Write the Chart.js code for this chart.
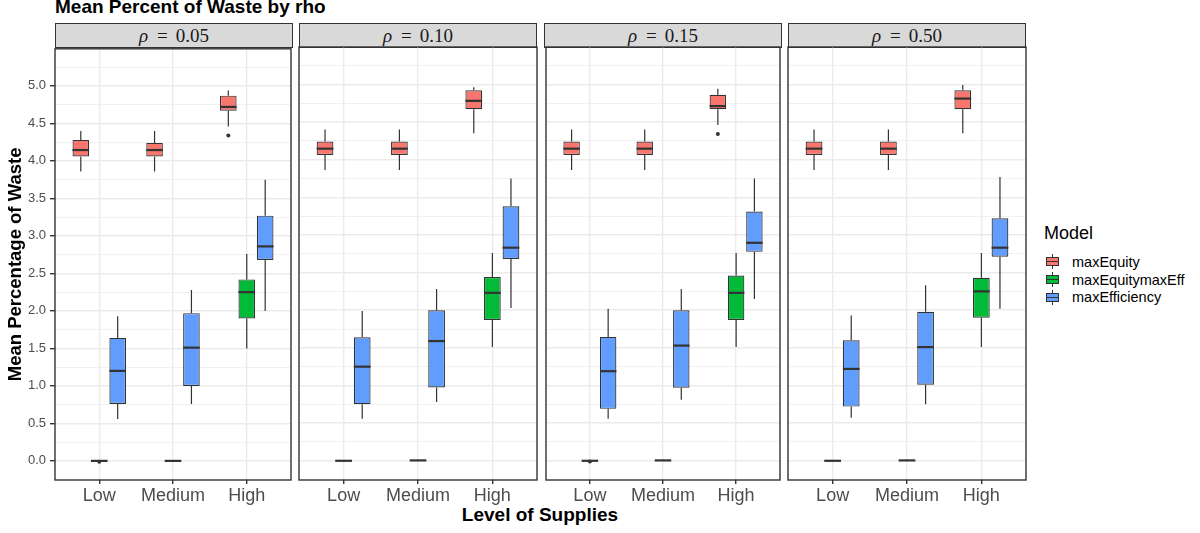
<!DOCTYPE html>
<html>
<head>
<meta charset="utf-8">
<script src="https://cdn.jsdelivr.net/npm/chart.js@4.4.0/dist/chart.umd.min.js"></script>
<style>
  body { margin: 0; width: 1200px; height: 533px; background: #fff; position: relative; overflow: hidden; font-family: "Liberation Sans", Arial, sans-serif; }
  canvas { position: absolute; }
  #titulo { position: absolute; left: 55px; top: -3px; font-size: 19px; line-height: 19px; font-weight: bold; color: #000; }
  #xtitulo { position: absolute; left: 340px; width: 400px; top: 505px; text-align: center; font-size: 19px; line-height: 19px; font-weight: bold; color: #000; }
  .tira { position: absolute; top: 23px; height: 25px; background: #d9d9d9; border: 1px solid #333; box-sizing: border-box; display: flex; align-items: center; justify-content: center; font-family: "Liberation Serif", serif; font-size: 19px; color: #1a1a1a; }
  .tira .igual { margin: 0 8px 0 9px; }
  #leyenda-titulo { position: absolute; left: 1044px; top: 224px; font-size: 18px; line-height: 18px; color: #000; }
  .fila { position: absolute; left: 1044px; height: 18px; display: flex; align-items: center; font-size: 14.5px; color: #000; }
  .llave { position: relative; width: 17px; height: 17px; margin-right: 11px; }
  .llave .bigote { position: absolute; left: 8px; top: 1px; width: 1.2px; height: 15px; background: #333; }
  .llave .caja { position: absolute; left: 2px; top: 4px; width: 13px; height: 9px; border: 1px solid #333; box-sizing: border-box; }
  .llave .mediana { position: absolute; left: 2px; top: 7.8px; width: 13px; height: 1.5px; background: #333; }
</style>
</head>
<body>
<div id="titulo">Mean Percent of Waste by rho</div>
<div id="xtitulo">Level of Supplies</div>
<div id="leyenda-titulo">Model</div>
<script>
const valoresRho = ['0.05', '0.10', '0.15', '0.50'];
const niveles = ['Low', 'Medium', 'High'];
const modelos = ['maxEquity', 'maxEquitymaxEff', 'maxEfficiency'];
const marcasY = [0, 0.5, 1, 1.5, 2, 2.5, 3, 3.5, 4, 4.5, 5];

// resumen de cada caja: [rho][nivel]
const equityBajo  = [[3.86, 3.86, 4.46], [3.86, 3.86, 4.35], [3.86, 3.86, 4.46], [3.86, 3.86, 4.35]];
const equityQ1    = [[4.06, 4.06, 4.67], [4.06, 4.06, 4.67], [4.06, 4.06, 4.67], [4.06, 4.06, 4.67]];
const equityMed   = [[4.145, 4.145, 4.72], [4.145, 4.145, 4.78], [4.145, 4.145, 4.71], [4.145, 4.145, 4.81]];
const equityQ3    = [[4.28, 4.24, 4.87], [4.24, 4.24, 4.92], [4.24, 4.24, 4.86], [4.24, 4.24, 4.92]];
const equityAlto  = [[4.40, 4.40, 4.94], [4.40, 4.40, 4.96], [4.40, 4.40, 4.94], [4.40, 4.40, 4.99]];

const mixtoBajo   = [[0, 0, 1.50], [0, 0, 1.51], [0, 0, 1.51], [0, 0, 1.51]];
const mixtoQ1     = [[0, 0, 1.90], [0, 0, 1.87], [0, 0, 1.87], [0, 0, 1.90]];
const mixtoMed    = [[0, 0, 2.25], [0, 0.005, 2.23], [0, 0.005, 2.23], [0, 0.005, 2.25]];
const mixtoQ3     = [[0.004, 0.002, 2.42], [0.002, 0.012, 2.44], [0.004, 0.012, 2.46], [0.002, 0.012, 2.43]];
const mixtoAlto   = [[0.01, 0.002, 2.76], [0.002, 0.015, 2.76], [0.01, 0.015, 2.76], [0.002, 0.015, 2.76]];

const eficBajo    = [[0.56, 0.76, 2.00], [0.56, 0.78, 2.03], [0.56, 0.81, 2.15], [0.57, 0.75, 2.02]];
const eficQ1      = [[0.76, 1.00, 2.68], [0.75, 0.975, 2.68], [0.69, 0.97, 2.775], [0.72, 1.01, 2.71]];
const eficMed     = [[1.20, 1.51, 2.86], [1.25, 1.59, 2.83], [1.19, 1.53, 2.895], [1.22, 1.51, 2.83]];
const eficQ3      = [[1.64, 1.97, 3.27], [1.64, 2.00, 3.38], [1.645, 2.00, 3.31], [1.60, 1.98, 3.22]];
const eficAlto    = [[1.93, 2.28, 3.75], [1.99, 2.28, 3.75], [2.02, 2.28, 3.75], [1.93, 2.33, 3.77]];

// atipicos por rho: [modelo, nivel, valor]
const atipicos = [[[0, 2, 4.34], [1, 0, -0.01]], [], [[0, 2, 4.34], [1, 0, -0.01]], []];

const colores = ['#F8766D', '#00BA38', '#619CFF'];
const desplazamiento = [-0.25, 0, 0.25];
const panelIzq = [55, 299, 544, 788];
const anchoPanel = 238;
const fuente = '"Liberation Sans", Arial, sans-serif';

const resumen = [
  { bajo: equityBajo, q1: equityQ1, med: equityMed, q3: equityQ3, alto: equityAlto },
  { bajo: mixtoBajo, q1: mixtoQ1, med: mixtoMed, q3: mixtoQ3, alto: mixtoAlto },
  { bajo: eficBajo, q1: eficQ1, med: eficMed, q3: eficQ3, alto: eficAlto }
];
const lineasY = marcasY.flatMap(v => [v, v + 0.25]);
const esMayor = v => Math.abs(v * 2 - Math.round(v * 2)) < 1e-6;

const pluginCajas = {
  id: 'cajas',
  beforeDatasetsDraw(chart) {
    const { ctx, scales: { y } } = chart;
    ctx.save();
    ctx.strokeStyle = '#333333';
    ctx.lineWidth = 1.2;
    chart.data.datasets.forEach((ds, d) => {
      if (!ds.bigoteBajo) return;
      chart.getDatasetMeta(d).data.forEach((barra, i) => {
        ctx.beginPath();
        ctx.moveTo(barra.x, y.getPixelForValue(ds.bigoteBajo[i]));
        ctx.lineTo(barra.x, y.getPixelForValue(ds.data[i].y[0]));
        ctx.moveTo(barra.x, y.getPixelForValue(ds.data[i].y[1]));
        ctx.lineTo(barra.x, y.getPixelForValue(ds.bigoteAlto[i]));
        ctx.stroke();
      });
    });
    ctx.restore();
  },
  afterDatasetsDraw(chart) {
    const { ctx, chartArea, scales: { y } } = chart;
    ctx.save();
    ctx.strokeStyle = '#333333';
    ctx.lineWidth = 2.2;
    chart.data.datasets.forEach((ds, d) => {
      if (!ds.mediana) return;
      chart.getDatasetMeta(d).data.forEach((barra, i) => {
        const py = y.getPixelForValue(ds.mediana[i]);
        ctx.beginPath();
        ctx.moveTo(barra.x - barra.width / 2, py);
        ctx.lineTo(barra.x + barra.width / 2, py);
        ctx.stroke();
      });
    });
    ctx.lineWidth = 1.4;
    ctx.strokeRect(chartArea.left, chartArea.top, chartArea.right - chartArea.left, chartArea.bottom - chartArea.top);
    ctx.restore();
  }
};

function crearPanel(f) {
  const primero = f === 0;
  const margenIzq = primero ? 55 : 2;

  const tira = document.createElement('div');
  tira.className = 'tira';
  tira.style.left = panelIzq[f] + 'px';
  tira.style.width = anchoPanel + 'px';
  tira.innerHTML = '<i>ρ</i><span class="igual">=</span>' + valoresRho[f];
  document.body.appendChild(tira);

  const canvas = document.createElement('canvas');
  canvas.width = anchoPanel + margenIzq + 2;
  canvas.height = 473;
  canvas.style.left = (panelIzq[f] - margenIzq) + 'px';
  canvas.style.top = '37px';
  document.body.appendChild(canvas);

  const datasets = modelos.map((m, k) => ({
    type: 'bar',
    label: m,
    data: niveles.map((n, i) => ({ x: i + desplazamiento[k], y: [resumen[k].q1[f][i], resumen[k].q3[f][i]] })),
    bigoteBajo: resumen[k].bajo[f],
    bigoteAlto: resumen[k].alto[f],
    mediana: resumen[k].med[f],
    backgroundColor: colores[k],
    borderColor: '#333333',
    borderWidth: 1.2,
    borderSkipped: false,
    grouped: false,
    categoryPercentage: 1,
    barPercentage: 0.9
  }));
  datasets.push({
    type: 'scatter',
    label: 'atipicos',
    data: atipicos[f].map(a => ({ x: a[1] + desplazamiento[a[0]], y: a[2] })),
    pointRadius: 2,
    backgroundColor: '#333333',
    borderWidth: 0
  });

  new Chart(canvas, {
    type: 'bar',
    data: { datasets },
    plugins: [pluginCajas],
    options: {
      responsive: false,
      animation: false,
      layout: { padding: { top: 10, left: primero ? 0 : 2, right: 2, bottom: 0 } },
      plugins: { legend: { display: false }, tooltip: { enabled: false } },
      scales: {
        x: {
          type: 'linear',
          offset: false,
          min: -0.6,
          max: 2.6,
          afterBuildTicks: s => { s.ticks = niveles.map((n, i) => ({ value: i })); },
          afterFit: s => { s.height = 30; },
          ticks: { callback: v => niveles[v], font: { family: fuente, size: 18 }, color: '#4d4d4d', padding: 1, maxRotation: 0, autoSkip: false },
          grid: { offset: false, color: '#ebebeb', lineWidth: 1.4, tickLength: 4, tickColor: '#333333' },
          border: { display: false }
        },
        y: {
          min: -0.255,
          max: 5.495,
          afterBuildTicks: s => { s.ticks = lineasY.map(v => ({ value: v })); },
          afterFit: s => { s.width = primero ? 55 : 0; },
          ticks: { display: primero, callback: v => esMayor(v) ? v.toFixed(1) : '', font: { family: fuente, size: 13 }, color: '#4d4d4d', padding: 4, autoSkip: false },
          grid: {
            color: '#ebebeb',
            lineWidth: c => esMayor(c.tick.value) ? 1.4 : 0.7,
            drawTicks: primero,
            tickLength: 5,
            tickColor: c => esMayor(c.tick.value) ? '#333333' : 'rgba(0,0,0,0)'
          },
          border: { display: false },
          title: {
            display: primero,
            text: 'Mean Percentage of Waste',
            color: '#000',
            font: { family: fuente, size: 18.5, weight: 'bold', lineHeight: 1.2 },
            padding: { top: 5, bottom: 0 }
          }
        }
      }
    }
  });
}

valoresRho.forEach((r, f) => crearPanel(f));

modelos.forEach((m, k) => {
  const fila = document.createElement('div');
  fila.className = 'fila';
  fila.style.top = (252.7 + k * 17.8) + 'px';
  fila.innerHTML = '<span class="llave"><span class="bigote"></span><span class="caja" style="background:' + colores[k] + '"></span><span class="mediana"></span></span>' + m;
  document.body.appendChild(fila);
});
</script>
</body>
</html>
